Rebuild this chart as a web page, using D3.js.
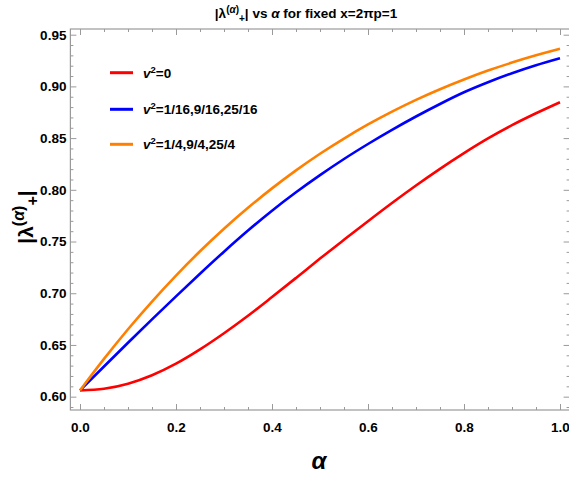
<!DOCTYPE html>
<html>
<head>
<meta charset="utf-8">
<script src="https://cdn.jsdelivr.net/npm/d3@7/dist/d3.min.js"></script>
<style>
  html, body { margin: 0; padding: 0; background: #fff; }
  svg { display: block; }
  .lbl { font-family: "Liberation Sans", Arial, sans-serif; font-weight: bold; }
</style>
</head>
<body>
<svg id="chart" width="569" height="478"></svg>
<script>
// α sample points
const alpha = [0, 0.05, 0.1, 0.15, 0.2, 0.25, 0.3, 0.35, 0.4, 0.45, 0.5,
               0.55, 0.6, 0.65, 0.7, 0.75, 0.8, 0.85, 0.9, 0.95, 1.0];

// |λ(α)+| for v² = 0
const lamV0 = [0.606, 0.6076, 0.6125, 0.6207, 0.6319, 0.6457, 0.6613, 0.6782, 0.6963, 0.7148, 0.7335,
               0.7517, 0.7697, 0.7873, 0.8042, 0.8203, 0.8355, 0.8497, 0.8625, 0.8740, 0.8847];
// |λ(α)+| for v² = 1/16, 9/16, 25/16
const lamV16 = [0.606, 0.6292, 0.6521, 0.6747, 0.6970, 0.7189, 0.7402, 0.7606, 0.7798, 0.7976, 0.8142,
                0.8298, 0.8443, 0.8580, 0.8709, 0.8830, 0.8943, 0.9040, 0.9127, 0.9204, 0.9272];
// |λ(α)+| for v² = 1/4, 9/4, 25/4
const lamV4 = [0.606, 0.6365, 0.6652, 0.6920, 0.7171, 0.7406, 0.7624, 0.7826, 0.8014, 0.8188, 0.8349,
               0.8496, 0.8632, 0.8756, 0.8870, 0.8973, 0.9067, 0.9153, 0.9230, 0.9300, 0.9363];

const seriesNames = ["=0", "=1/16,9/16,25/16", "=1/4,9/4,25/4"];
const seriesColors = ["#ff0000", "#0000ff", "#ff8000"];
const seriesValues = [lamV0, lamV16, lamV4];

const xMajor = [0, 0.2, 0.4, 0.6, 0.8, 1.0];
const yMajor = [0.60, 0.65, 0.70, 0.75, 0.80, 0.85, 0.90, 0.95];

const svg = d3.select("#chart");
const frame = { left: 70.4, right: 569.6, top: 29, bottom: 410 };

const x = d3.scaleLinear().domain([-0.02, 1.02]).range([frame.left, frame.right]);
const y = d3.scaleLinear().domain([0.5871, 0.9555]).range([frame.bottom, frame.top]);

const frameColor = "#9a9a9a";

// frame
svg.append("rect")
  .attr("x", frame.left).attr("y", frame.top)
  .attr("width", frame.right - frame.left).attr("height", frame.bottom - frame.top)
  .attr("fill", "none").attr("stroke", frameColor).attr("stroke-width", 1.2);

// minor tick positions
const xMinor = d3.range(0, 1.0001, 0.05).filter(v => !xMajor.some(m => Math.abs(m - v) < 1e-6));
const yMinor = d3.range(0.59, 0.9501, 0.01).filter(v => !yMajor.some(m => Math.abs(m - v) < 1e-6));

// inward-pointing axes on all four sides
function axisSet(axisFn, scale, major, minor, transform, labels) {
  const gMaj = svg.append("g").attr("transform", transform)
    .call(axisFn(scale).tickValues(major).tickSizeInner(-6).tickSizeOuter(0)
      .tickFormat(labels ? d3.format(labels) : () => ""));
  const gMin = svg.append("g").attr("transform", transform)
    .call(axisFn(scale).tickValues(minor).tickSizeInner(-3).tickSizeOuter(0).tickFormat(() => ""));
  [gMaj, gMin].forEach(g => {
    g.select(".domain").remove();
    g.selectAll("line").attr("stroke", frameColor).attr("stroke-width", 1);
  });
  return gMaj;
}

const gxb = axisSet(d3.axisBottom, x, xMajor, xMinor, `translate(0,${frame.bottom})`, ".1f");
axisSet(d3.axisTop, x, xMajor, xMinor, `translate(0,${frame.top})`, null);
const gyl = axisSet(d3.axisLeft, y, yMajor, yMinor, `translate(${frame.left},0)`, ".2f");
axisSet(d3.axisRight, y, yMajor, yMinor, `translate(${frame.right},0)`, null);

gxb.selectAll("text").attr("class", "lbl").attr("font-size", 13.5).attr("fill", "#000")
  .attr("y", 12).attr("dy", "0.71em");
gyl.selectAll("text").attr("class", "lbl").attr("font-size", 13.5).attr("fill", "#000")
  .attr("x", -4);
svg.selectAll(".tick text").attr("font-family", null);

// curves
const line = d3.line()
  .x((d, i) => x(alpha[i]))
  .y(d => y(d))
  .curve(d3.curveMonotoneX);

svg.append("defs").append("clipPath").attr("id", "plotClip")
  .append("rect").attr("x", frame.left).attr("y", frame.top)
  .attr("width", frame.right - frame.left).attr("height", frame.bottom - frame.top);

const curves = svg.append("g").attr("clip-path", "url(#plotClip)");
seriesValues.forEach((vals, k) => {
  curves.append("path")
    .datum(vals)
    .attr("d", line)
    .attr("fill", "none")
    .attr("stroke", seriesColors[k])
    .attr("stroke-width", 2.6)
    .attr("stroke-linejoin", "round");
});

// legend
const legendY = [72.7, 109.3, 144.3];
const legend = svg.append("g");
seriesNames.forEach((name, k) => {
  legend.append("line")
    .attr("x1", 110).attr("x2", 133)
    .attr("y1", legendY[k]).attr("y2", legendY[k])
    .attr("stroke", seriesColors[k]).attr("stroke-width", 3);
  const t = legend.append("text")
    .attr("class", "lbl").attr("font-size", 13.5)
    .attr("x", 143).attr("y", legendY[k] + 5);
  t.append("tspan").attr("font-style", "italic").text("v");
  t.append("tspan").attr("font-size", 9.5).attr("dy", -5).text("2");
  t.append("tspan").attr("dy", 5).text(name);
});

// title
const title = svg.append("text").attr("class", "lbl")
  .attr("font-size", 13.5).attr("text-anchor", "middle")
  .attr("x", 306).attr("y", 18);
title.append("tspan").text("|λ");
title.append("tspan").attr("font-size", 10).attr("dy", -5).text("(");
title.append("tspan").attr("font-size", 10).attr("font-style", "italic").text("α");
title.append("tspan").attr("font-size", 10).text(")");
title.append("tspan").attr("font-size", 10).attr("dy", 9).text("+");
title.append("tspan").attr("dy", -4).text("| vs ");
title.append("tspan").attr("font-style", "italic").text("α");
title.append("tspan").text(" for fixed x=2πp=1");

// x-axis label
svg.append("text").attr("class", "lbl")
  .attr("font-size", 24).attr("font-style", "italic")
  .attr("text-anchor", "middle")
  .attr("x", 319).attr("y", 469)
  .text("α");

// y-axis label
const yl = svg.append("text").attr("class", "lbl")
  .attr("font-size", 21)
  .attr("text-anchor", "middle")
  .attr("transform", "translate(33,217) rotate(-90)");
yl.append("tspan").text("|λ");
yl.append("tspan").attr("font-size", 16).attr("dy", -9).text("(");
yl.append("tspan").attr("font-size", 16).attr("font-style", "italic").text("α");
yl.append("tspan").attr("font-size", 16).text(")");
yl.append("tspan").attr("font-size", 16).attr("dy", 14).text("+");
yl.append("tspan").attr("dy", -5).text("|");
</script>
</body>
</html>
